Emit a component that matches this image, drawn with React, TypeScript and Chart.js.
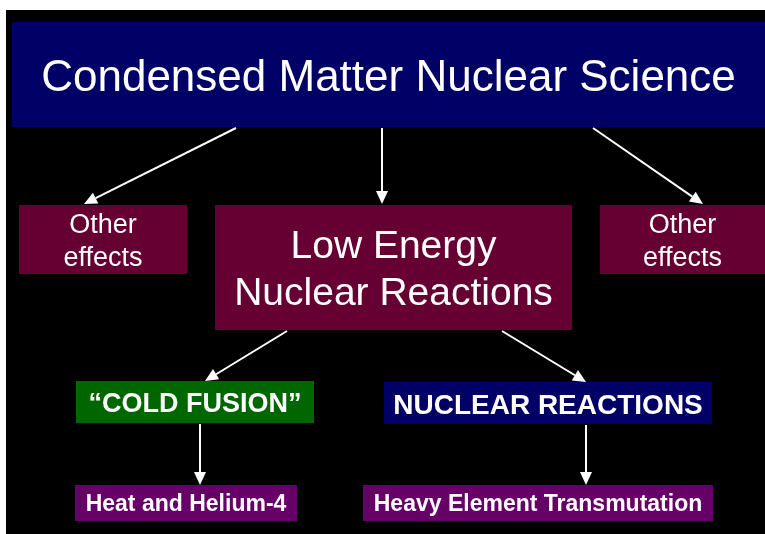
import { useEffect, useRef } from "react";
import { Chart, registerables } from "chart.js";

Chart.register(...registerables);

// Diagram nodes (data units of a 765 x 534 board)
const nodeLabels: string[][] = [
  ["Condensed Matter Nuclear Science"],
  ["Other", "effects"],
  ["Low Energy", "Nuclear Reactions"],
  ["Other", "effects"],
  ["\u201CCOLD FUSION\u201D"],
  ["NUCLEAR REACTIONS"],
  ["Heat and Helium-4"],
  ["Heavy Element Transmutation"],
];
const nodeLeft = [12, 19, 215, 600, 76, 384, 75, 363];
const nodeRight = [765, 187, 572, 765, 314, 712, 297, 713];
const nodeTop = [22, 205, 205, 205, 381, 382, 485, 485];
const nodeBottom = [127, 274, 330, 274, 423, 424, 521, 521];

// Arrows (from -> to, tip at "to")
const arrowFromX = [236, 382, 593, 287, 502, 200, 586];
const arrowFromY = [128, 128, 128, 331, 331, 424, 425];
const arrowToX = [84, 382, 703, 205, 586, 200, 586];
const arrowToY = [204, 204, 204, 381, 382, 485, 485];

// Board extent
const boardX = [0, 765];
const boardY = [0, 534];
const frameX = [6, 765];
const frameY = [10, 534];

// Styles
const nodeFill = ["#000066", "#660033", "#660033", "#660033", "#006600", "#000066", "#660066", "#660066"];
const nodeFontSize = [44, 27, 39, 27, 27, 28, 23, 23];
const nodeFontWeight = ["normal", "normal", "normal", "normal", "bold", "bold", "bold", "bold"];
const nodeLineHeight = [44, 33, 47, 33, 30, 30, 26, 26];
const nodeTextShift = [4, 3, 3, 3, 3, 3, 2, 2];

const diagramPlugin = {
  id: "diagram",
  beforeDatasetsDraw(chart: any) {
    const { ctx, scales } = chart;
    const xs = scales.x;
    const ys = scales.y;
    const px = (v: number) => xs.getPixelForValue(v);
    const py = (v: number) => ys.getPixelForValue(v);
    ctx.save();
    // background
    ctx.fillStyle = "#ffffff";
    ctx.fillRect(px(boardX[0]), py(boardY[0]), px(boardX[1]) - px(boardX[0]), py(boardY[1]) - py(boardY[0]));
    ctx.fillStyle = "#000000";
    ctx.fillRect(px(frameX[0]), py(frameY[0]), px(frameX[1]) - px(frameX[0]), py(frameY[1]) - py(frameY[0]));

    // nodes
    nodeLabels.forEach((lines, i) => {
      const l = px(nodeLeft[i]);
      const r = px(nodeRight[i]);
      const t = py(nodeTop[i]);
      const b = py(nodeBottom[i]);
      ctx.fillStyle = nodeFill[i];
      ctx.fillRect(l, t, r - l, b - t);
      ctx.fillStyle = "#ffffff";
      ctx.font = `${nodeFontWeight[i]} ${nodeFontSize[i]}px "Liberation Sans", Arial, sans-serif`;
      ctx.textAlign = "center";
      ctx.textBaseline = "middle";
      const cx = (l + r) / 2;
      const cy = (t + b) / 2;
      const lh = nodeLineHeight[i];
      lines.forEach((s, k) => {
        const y = cy + (k - (lines.length - 1) / 2) * lh + nodeTextShift[i];
        ctx.fillText(s, cx, y);
      });
    });

    // arrows
    ctx.strokeStyle = "#ffffff";
    ctx.fillStyle = "#ffffff";
    ctx.lineWidth = 2;
    for (let i = 0; i < arrowFromX.length; i++) {
      const x0 = px(arrowFromX[i]);
      const y0 = py(arrowFromY[i]);
      const x1 = px(arrowToX[i]);
      const y1 = py(arrowToY[i]);
      const ang = Math.atan2(y1 - y0, x1 - x0);
      const headLen = 13;
      const headHalf = 6;
      const bx = x1 - Math.cos(ang) * headLen;
      const by = y1 - Math.sin(ang) * headLen;
      ctx.beginPath();
      ctx.moveTo(x0, y0);
      ctx.lineTo(bx, by);
      ctx.stroke();
      ctx.beginPath();
      ctx.moveTo(x1, y1);
      ctx.lineTo(bx + Math.sin(ang) * headHalf, by - Math.cos(ang) * headHalf);
      ctx.lineTo(bx - Math.sin(ang) * headHalf, by + Math.cos(ang) * headHalf);
      ctx.closePath();
      ctx.fill();
    }
    ctx.restore();
  },
};

export default function App() {
  const ref = useRef<HTMLCanvasElement | null>(null);
  useEffect(() => {
    document.body.style.margin = "0";
    const canvas = ref.current!;
    const chart = new Chart(canvas, {
      type: "scatter",
      data: {
        datasets: [
          {
            data: nodeLeft.map((v, i) => ({ x: (v + nodeRight[i]) / 2, y: (nodeTop[i] + nodeBottom[i]) / 2 })),
            pointRadius: 0,
            pointHoverRadius: 0,
          },
        ],
      },
      options: {
        animation: false,
        responsive: false,
        maintainAspectRatio: false,
        devicePixelRatio: 1,
        layout: { padding: 0 },
        events: [],
        plugins: { legend: { display: false }, tooltip: { enabled: false }, title: { display: false } },
        scales: {
          x: { type: "linear", min: boardX[0], max: boardX[1], display: false },
          y: { type: "linear", min: boardY[0], max: boardY[1], reverse: true, display: false },
        },
      },
      plugins: [diagramPlugin],
    });
    return () => chart.destroy();
  }, []);
  return (
    <div style={{ width: 765, height: 534 }}>
      <canvas ref={ref} width={765} height={534} style={{ display: "block", width: 765, height: 534 }} />
    </div>
  );
}
